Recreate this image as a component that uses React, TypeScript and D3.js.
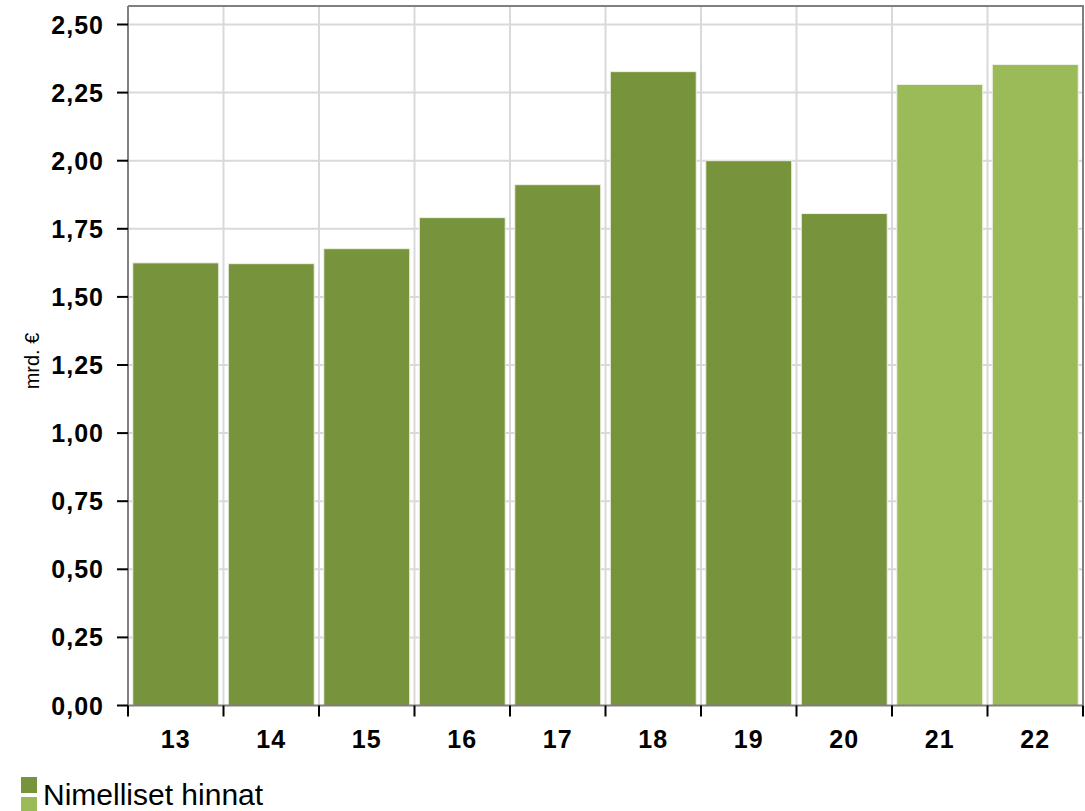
import React, { useRef, useEffect } from 'react';
import * as d3 from 'd3';

const years = ['13', '14', '15', '16', '17', '18', '19', '20', '21', '22'];
const values = [1.625, 1.622, 1.677, 1.791, 1.912, 2.327, 2.0, 1.806, 2.28, 2.353];
const forecast = [false, false, false, false, false, false, false, false, true, true];
const yTicks = [0, 0.25, 0.5, 0.75, 1.0, 1.25, 1.5, 1.75, 2.0, 2.25, 2.5];
const legendLabels = ['Nimelliset hinnat'];

const DARK = '#77933C';
const LIGHT = '#9BBB59';

export default function App() {
  const ref = useRef<SVGSVGElement | null>(null);

  useEffect(() => {
    if (!ref.current) return;
    const width = 1085;
    const height = 811;
    const left = 128, right = 1083, top = 6, bottom = 705.5;

    const svg = d3.select(ref.current);
    svg.selectAll('*').remove();

    const x = d3.scaleBand<string>().domain(years).range([left, right]).paddingInner(0.1).paddingOuter(0.05);
    const xEdge = d3.scaleLinear().domain([0, years.length]).range([left, right]);
    const y = d3.scaleLinear().domain([0, 2.5]).range([bottom, 24.5]);

    const g = svg.append('g');

    // grid
    g.selectAll('.hgrid').data(yTicks.slice(1)).enter().append('line')
      .attr('x1', left).attr('x2', right)
      .attr('y1', d => y(d)).attr('y2', d => y(d))
      .attr('stroke', '#d9d9d9').attr('stroke-width', 2);
    g.selectAll('.vgrid').data(d3.range(1, years.length)).enter().append('line')
      .attr('x1', d => xEdge(d)).attr('x2', d => xEdge(d))
      .attr('y1', top).attr('y2', bottom)
      .attr('stroke', '#d9d9d9').attr('stroke-width', 2);

    // bars
    g.selectAll('.bar').data(years).enter().append('rect')
      .attr('x', d => x(d)!)
      .attr('width', x.bandwidth())
      .attr('y', (d, i) => y(values[i]))
      .attr('height', (d, i) => bottom - y(values[i]))
      .attr('fill', (d, i) => (forecast[i] ? LIGHT : DARK))
      .attr('stroke', '#eef2e6').attr('stroke-width', 1);

    // frame
    g.append('path')
      .attr('d', `M${left},${top}H${right}V${bottom}`)
      .attr('fill', 'none').attr('stroke', '#808080').attr('stroke-width', 2);
    g.append('line').attr('x1', left).attr('x2', left).attr('y1', top).attr('y2', bottom + 1)
      .attr('stroke', '#808080').attr('stroke-width', 2);
    g.append('line').attr('x1', left).attr('x2', right).attr('y1', bottom).attr('y2', bottom)
      .attr('stroke', '#808080').attr('stroke-width', 2);

    const font = 'Liberation Sans, Arial, sans-serif';

    // y ticks
    yTicks.forEach(t => {
      g.append('line').attr('x1', left - 11).attr('x2', left).attr('y1', y(t)).attr('y2', y(t))
        .attr('stroke', '#000').attr('stroke-width', 2);
      g.append('text')
        .attr('x', 104).attr('y', y(t)).attr('dy', '0.36em')
        .attr('text-anchor', 'end')
        .attr('font-family', font)
        .attr('font-weight', 700).attr('font-size', 25).attr('letter-spacing', 1)
        .attr('fill', '#000')
        .text(d3.format('.2f')(t).replace('.', ','));
    });

    // x ticks
    d3.range(0, years.length + 1).forEach(i => {
      g.append('line').attr('x1', xEdge(i)).attr('x2', xEdge(i)).attr('y1', bottom).attr('y2', bottom + 11)
        .attr('stroke', '#000').attr('stroke-width', 2);
    });
    years.forEach(yr => {
      g.append('text')
        .attr('x', x(yr)! + x.bandwidth() / 2).attr('y', 748)
        .attr('text-anchor', 'middle')
        .attr('font-family', font)
        .attr('font-weight', 700).attr('font-size', 25).attr('letter-spacing', 1)
        .attr('fill', '#000')
        .text(yr);
    });

    // y title
    g.append('text')
      .attr('transform', `translate(39, 361) rotate(-90)`)
      .attr('text-anchor', 'middle')
      .attr('font-family', font)
      .attr('font-size', 20)
      .attr('fill', '#000')
      .text('mrd. €');

    // legend
    g.append('rect').attr('x', 21).attr('y', 777).attr('width', 16).attr('height', 16).attr('fill', DARK);
    g.append('rect').attr('x', 21).attr('y', 797).attr('width', 16).attr('height', 16).attr('fill', LIGHT);
    g.append('text')
      .attr('x', 43).attr('y', 805)
      .attr('font-family', font)
      .attr('font-size', 30)
      .attr('fill', '#000')
      .text(legendLabels[0]);

    svg.attr('width', width).attr('height', height);
  }, []);

  return (
    <svg
      ref={ref}
      width={1085}
      height={811}
      style={{ position: 'absolute', left: 0, top: 0, background: '#fff' }}
    />
  );
}
